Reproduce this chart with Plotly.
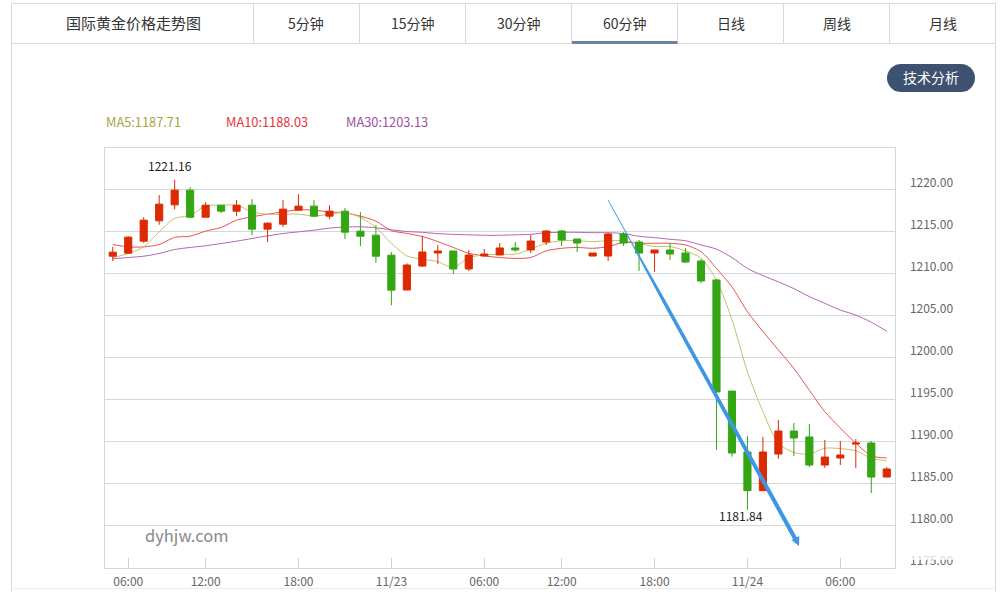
import math
import plotly.graph_objects as go

W, H = 1002, 592

opens = [1212.06,1212.42,1213.85,1216.27,1218.17,1219.92,1216.70,1218.13,1217.42,1218.13,
         1215.28,1215.87,1217.54,1218.02,1216.83,1217.42,1215.04,1214.56,1212.18,1208.04,
         1210.89,1212.44,1212.68,1210.54,1212.08,1212.20,1213.04,1212.80,1213.75,1215.06,
         1214.10,1212.08,1212.08,1214.70,1213.75,1212.44,1212.80,1212.44,1211.49,1209.23,
         1196.00,1188.75,1184.15,1188.51,1191.25,1190.54,1187.20,1188.04,1189.70,1189.82,1185.77]
closes = [1212.54,1214.33,1216.35,1218.25,1219.92,1216.70,1218.13,1217.42,1218.13,1215.28,
          1215.99,1217.66,1218.02,1216.83,1217.42,1214.92,1214.44,1212.06,1208.02,1211.01,
          1212.56,1212.68,1210.54,1212.20,1212.32,1213.04,1212.80,1213.87,1215.06,1213.99,
          1213.63,1212.44,1214.70,1213.63,1212.44,1212.80,1212.32,1211.37,1209.11,1195.90,
          1188.63,1184.15,1188.75,1191.25,1190.42,1187.20,1188.15,1188.39,1189.82,1185.77,1186.73]
highs = [1213.17,1214.44,1216.70,1219.33,1221.16,1220.28,1218.50,1218.13,1218.73,1218.85,
         1216.11,1218.73,1219.44,1218.73,1218.13,1217.78,1217.30,1215.75,1212.54,1211.20,
         1214.46,1213.39,1212.68,1212.80,1212.92,1213.63,1213.75,1214.58,1215.18,1215.18,
         1214.10,1212.44,1214.82,1214.94,1213.99,1212.80,1213.63,1213.04,1211.73,1209.35,
         1196.00,1190.65,1190.54,1192.56,1192.20,1192.08,1190.18,1190.06,1190.30,1190.06,1186.96]
lows = [1211.50,1212.38,1213.65,1215.80,1217.66,1216.60,1216.70,1217.20,1216.83,1214.56,
        1213.73,1215.52,1217.54,1216.83,1216.47,1214.09,1213.25,1211.27,1206.23,1208.00,
        1210.77,1211.13,1209.94,1210.30,1212.08,1212.20,1212.56,1212.44,1213.39,1213.27,
        1212.56,1212.08,1211.49,1213.27,1210.30,1210.18,1211.60,1211.25,1208.87,1188.99,
        1188.19,1181.84,1184.15,1187.92,1188.27,1186.96,1186.85,1187.20,1186.85,1183.87,1185.77]

ma5 = [1211.87,1212.38,1213.17,1214.96,1216.55,1216.94,1218.05,1218.13,1218.13,1217.34,
       1217.06,1217.06,1217.06,1216.83,1217.06,1217.26,1216.67,1215.48,1213.60,1212.10,
       1211.70,1211.40,1210.70,1211.90,1212.20,1212.30,1212.30,1212.90,1213.60,1213.90,
       1213.90,1213.80,1213.90,1213.90,1213.60,1213.20,1213.20,1212.70,1211.80,1209.20,
       1204.50,1198.30,1193.55,1189.80,1188.70,1188.50,1189.20,1189.15,1188.90,1188.00,1187.71]
ma10 = [1213.45,1213.17,1213.17,1213.45,1214.30,1214.44,1215.04,1215.48,1216.35,1216.75,
        1217.06,1217.34,1217.58,1217.54,1217.34,1217.22,1216.83,1216.23,1215.10,1214.78,
        1214.40,1213.80,1213.10,1212.40,1212.10,1211.90,1211.80,1211.90,1212.70,1213.00,
        1213.10,1213.00,1213.20,1213.70,1213.60,1213.60,1213.60,1213.40,1212.60,1210.60,
        1208.40,1205.45,1203.10,1200.90,1198.70,1196.10,1193.55,1191.60,1189.80,1188.30,1188.03]
ma30 = [1211.75,1211.90,1212.06,1212.38,1212.86,1213.10,1213.30,1213.57,1213.85,1214.17,
        1214.48,1214.76,1214.96,1215.16,1215.40,1215.52,1215.56,1215.44,1215.20,1215.00,
        1214.90,1214.75,1214.66,1214.60,1214.55,1214.55,1214.60,1214.66,1214.86,1214.90,
        1214.90,1214.86,1214.86,1214.75,1214.43,1214.27,1214.07,1213.90,1213.40,1212.90,
        1211.90,1210.60,1209.75,1209.00,1208.20,1207.25,1206.45,1205.65,1205.05,1204.20,1203.13]

candle_ids = list(range(len(opens)))
x_tick_positions = [1, 6, 12, 18, 24, 29, 35, 41, 47]
x_tick_labels = ["06:00", "12:00", "18:00", "11/23", "06:00", "12:00", "18:00", "11/24", "06:00"]
y_ticks = [1175, 1180, 1185, 1190, 1195, 1200, 1205, 1210, 1215, 1220]
y_tick_labels = ["1175.00", "1180.00", "1185.00", "1190.00", "1195.00", "1200.00", "1205.00", "1210.00", "1215.00", "1220.00"]
tab_labels = ["5分钟", "15分钟", "30分钟", "60分钟", "日线", "周线", "月线"]
legend_labels = ["MA5:1187.71", "MA10:1188.03", "MA30:1203.13"]

YELLOW, RED, PURPLE = "#c4bf6a", "#ee5050", "#b265b5"
UP, DOWN = "#dd2a00", "#34a513"
LINE = "#d9d9d9"
GRID = "#d3d8dc"
FONT = "Noto Sans CJK SC"


def fx(p):
    return p / W


def fy(p):
    return 1 - p / H


fig = go.Figure()
for vals, col, name in [(ma30, PURPLE, "MA30"), (ma10, RED, "MA10"), (ma5, YELLOW, "MA5")]:
    fig.add_trace(go.Scatter(x=candle_ids, y=vals, mode="lines", name=name,
                             line=dict(color=col, width=1, shape="spline", smoothing=0.8),
                             xaxis="x", yaxis="y", hoverinfo="skip"))
fig.add_trace(go.Candlestick(x=candle_ids, open=opens, high=highs, low=lows, close=closes,
                             increasing=dict(line=dict(color=UP, width=1), fillcolor=UP),
                             decreasing=dict(line=dict(color=DOWN, width=1), fillcolor=DOWN),
                             xaxis="x2", yaxis="y2", name="K"))

shapes = []


def seg(x0, y0, x1, y1, color=LINE, width=1, layer="below"):
    shapes.append(dict(type="line", xref="paper", yref="paper", x0=fx(x0), y0=fy(y0), x1=fx(x1), y1=fy(y1),
                       line=dict(color=color, width=width), layer=layer))


def poly(pts, color, layer="above"):
    d = "M" + " L".join(f"{fx(a):.5f},{fy(b):.5f}" for a, b in pts) + " Z"
    shapes.append(dict(type="path", xref="paper", yref="paper", path=d, fillcolor=color,
                       line=dict(width=0), layer=layer))


seg(11.5, 3.5, 995.5, 3.5)
seg(11.5, 43.5, 995.5, 43.5)
seg(11.5, 3.5, 11.5, 592)
seg(995.5, 3.5, 995.5, 592)
seg(11.5, 588.5, 995.5, 588.5, "#ececec")
dividers = [253.5, 359.5, 465.5, 571.5, 677.5, 783.5, 889.5]
for d in dividers:
    seg(d, 3.5, d, 43.5)
shapes.append(dict(type="rect", xref="paper", yref="paper", x0=fx(572), x1=fx(677.5), y0=fy(41), y1=fy(44),
                   fillcolor="#6c809f", line=dict(width=0), layer="below"))

bx0, bx1, by0, by1 = 887, 975, 64, 92
r = (by1 - by0) / 2
pts = [(bx1 - r + r * math.cos(math.radians(a)), by0 + r + r * math.sin(math.radians(a))) for a in range(-90, 91, 10)]
pts += [(bx0 + r + r * math.cos(math.radians(a)), by0 + r + r * math.sin(math.radians(a))) for a in range(90, 271, 10)]
poly(pts, "#3d5170", "below")

ax0, ay0, ax1, ay1 = 608, 200, 797, 542
L = math.hypot(ax1 - ax0, ay1 - ay0)
ux, uy = (ax1 - ax0) / L, (ay1 - ay0) / L
nx, ny = uy, -ux
taper = [(0, .35), (.12, .5), (.18, 1.0), (.3, 1.7), (1, 2.1)]
left = [(ax0 + ux * L * t + nx * w, ay0 + uy * L * t + ny * w) for t, w in taper]
right = [(ax0 + ux * L * t - nx * w, ay0 + uy * L * t - ny * w) for t, w in reversed(taper)]
poly(left + right, "#3d97e3")
poly([(799, 546), (791.5, 540), (799.3, 536)], "#3d97e3")

shapes.append(dict(type="rect", xref="paper", yref="paper", x0=fx(905), x1=fx(960), y0=fy(554), y1=fy(560),
                   fillcolor="rgba(255,255,255,0.75)", line=dict(width=0), layer="above"))

ann = []


def text(x, y, s, color="#333333", size=14, anchor="center"):
    ann.append(dict(xref="paper", yref="paper", x=fx(x), y=fy(y), text=s, showarrow=False, xanchor=anchor,
                    yanchor="middle", font=dict(family=FONT, size=size, color=color)))


text(133, 22.5, "国际黄金价格走势图", size=15)
centers = [306, 412.5, 518.5, 625, 730.5, 836.5, 942.5]
for c, s in zip(centers, tab_labels):
    text(c, 22.5, s)
text(931, 77, "技术分析", color="#ffffff")
for x0, s, col in zip([104, 224, 344], legend_labels, ["#aaa53f", "#e8343a", "#a04fa4"]):
    text(x0, 121.5, s, color=col, size=12.8, anchor="left")
text(170, 165, "1221.16", color="#222222", size=12)
text(741, 515, "1181.84", color="#222222", size=12)
text(143, 535, "dyhjw.com", color="#8a8a8a", size=16.5, anchor="left")

dom_x = [fx(105), fx(894.5)]
dom_y = [fy(567.5), fy(147.5)]
x_range = [-0.5, 50.5]
y_range = [1175, 1225]

fig.update_layout(
    width=W, height=H, margin=dict(l=0, r=0, t=0, b=0), paper_bgcolor="white", plot_bgcolor="white",
    showlegend=False, shapes=shapes, annotations=ann, hovermode=False,
    font=dict(family=FONT, size=12, color="#666666"), boxgap=0.34,
    xaxis=dict(domain=dom_x, range=x_range, tickmode="array", tickvals=x_tick_positions, ticktext=x_tick_labels,
               ticks="inside", ticklen=10, tickcolor="#ccd3d9", showgrid=False, zeroline=False, automargin=False,
               showline=True, mirror=True, linecolor="#cfd6dc", linewidth=1, ticklabelstandoff=3,
               tickfont=dict(size=12, color="#666666")),
    yaxis=dict(domain=dom_y, range=y_range, side="right", tickmode="array", tickvals=y_ticks, ticktext=y_tick_labels,
               ticks="", showgrid=True, gridcolor=GRID, gridwidth=1, zeroline=False, showline=True, mirror=True,
               automargin=False, linecolor="#cfd6dc", linewidth=1, ticklabelstandoff=12, ticklabelshift=-7,
               tickfont=dict(size=12, color="#666666")),
    xaxis2=dict(domain=dom_x, range=x_range, overlaying="x", anchor="y2", visible=False, automargin=False,
                rangeslider=dict(visible=False)),
    yaxis2=dict(domain=dom_y, range=y_range, overlaying="y", anchor="x2", visible=False, automargin=False),
)

fig.write_html("out.html", config=dict(displayModeBar=False),
               post_script="document.body.style.margin='0';document.body.style.overflow='hidden';")
